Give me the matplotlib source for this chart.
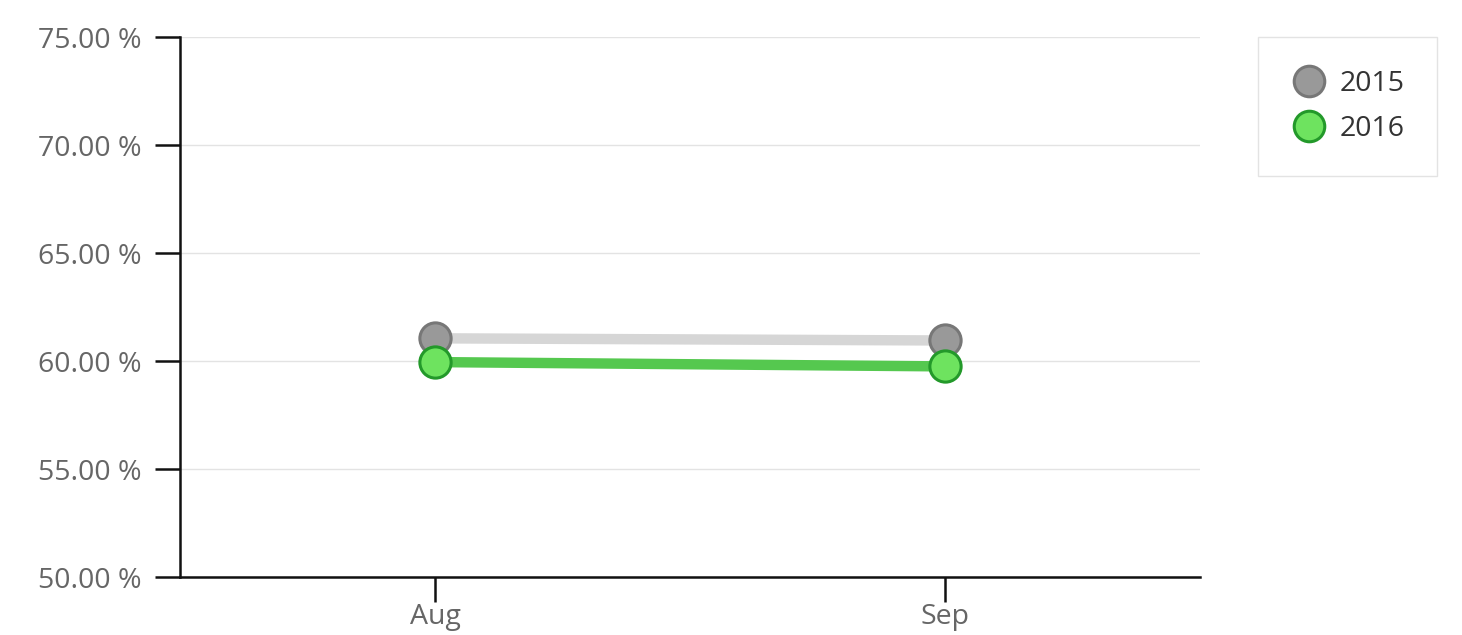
import matplotlib
matplotlib.use("Agg")
import matplotlib.pyplot as plt
from matplotlib.ticker import FuncFormatter

# --- data ---
months = ["Aug", "Sep"]
vals_2015 = [61.05, 60.95]
vals_2016 = [59.95, 59.75]
y_ticks = [50, 55, 60, 65, 70, 75]

plt.rcParams['font.family'] = ['Open Sans', 'DejaVu Sans']

fig = plt.figure(figsize=(14.62, 6.35), dpi=100)
ax = fig.add_axes([180 / 1462, 58 / 635, 1020 / 1462, 540 / 635])

x = [0.5, 1.5]

# 2015 - grey
ax.plot(x, vals_2015, color='#d6d6d6', linewidth=7.5, solid_capstyle='butt', zorder=3)
ax.plot(x, vals_2015, linestyle='none', marker='o', markersize=22.5,
        markerfacecolor='#999999', markeredgecolor='#777777', markeredgewidth=2.2, zorder=4)
# 2016 - green
ax.plot(x, vals_2016, color='#55c84f', linewidth=7.5, solid_capstyle='butt', zorder=5)
ax.plot(x, vals_2016, linestyle='none', marker='o', markersize=22.5,
        markerfacecolor='#6ee35f', markeredgecolor='#23992a', markeredgewidth=2.2, zorder=6)

ax.set_xlim(0, 2)
ax.set_ylim(50, 75)
ax.set_xticks(x)
ax.set_xticklabels(months)
ax.set_yticks(y_ticks)
ax.yaxis.set_major_formatter(FuncFormatter(lambda v, p: f"{v:.2f} %"))

ax.grid(axis='y', color='#e3e3e3', linewidth=1)
ax.set_axisbelow(True)
for s in ['top', 'right']:
    ax.spines[s].set_visible(False)
for s in ['left', 'bottom']:
    ax.spines[s].set_linewidth(1.8)
    ax.spines[s].set_color('#111111')

ax.tick_params(axis='both', length=18, width=1.8, color='#111111',
               labelsize=20.5, labelcolor='#666666')
ax.tick_params(axis='y', pad=10)
ax.tick_params(axis='x', pad=1)

# legend drawn as proxy markers
h1 = plt.Line2D([], [], linestyle='none', marker='o', markersize=22,
                markerfacecolor='#999999', markeredgecolor='#777777', markeredgewidth=2.2)
h2 = plt.Line2D([], [], linestyle='none', marker='o', markersize=22,
                markerfacecolor='#6ee35f', markeredgecolor='#23992a', markeredgewidth=2.2)
leg = fig.legend([h1, h2], ['2015', '2016'], loc='upper left',
                 bbox_to_anchor=(1258 / 1462, 1 - 37 / 635), fontsize=20.5,
                 frameon=True, fancybox=False, edgecolor='#dddddd',
                 borderpad=1.15, labelspacing=0.62, handletextpad=0.4,
                 handlelength=1.3, borderaxespad=0)
for t in leg.get_texts():
    t.set_color('#333333')

fig.savefig("out.png", dpi=100)
